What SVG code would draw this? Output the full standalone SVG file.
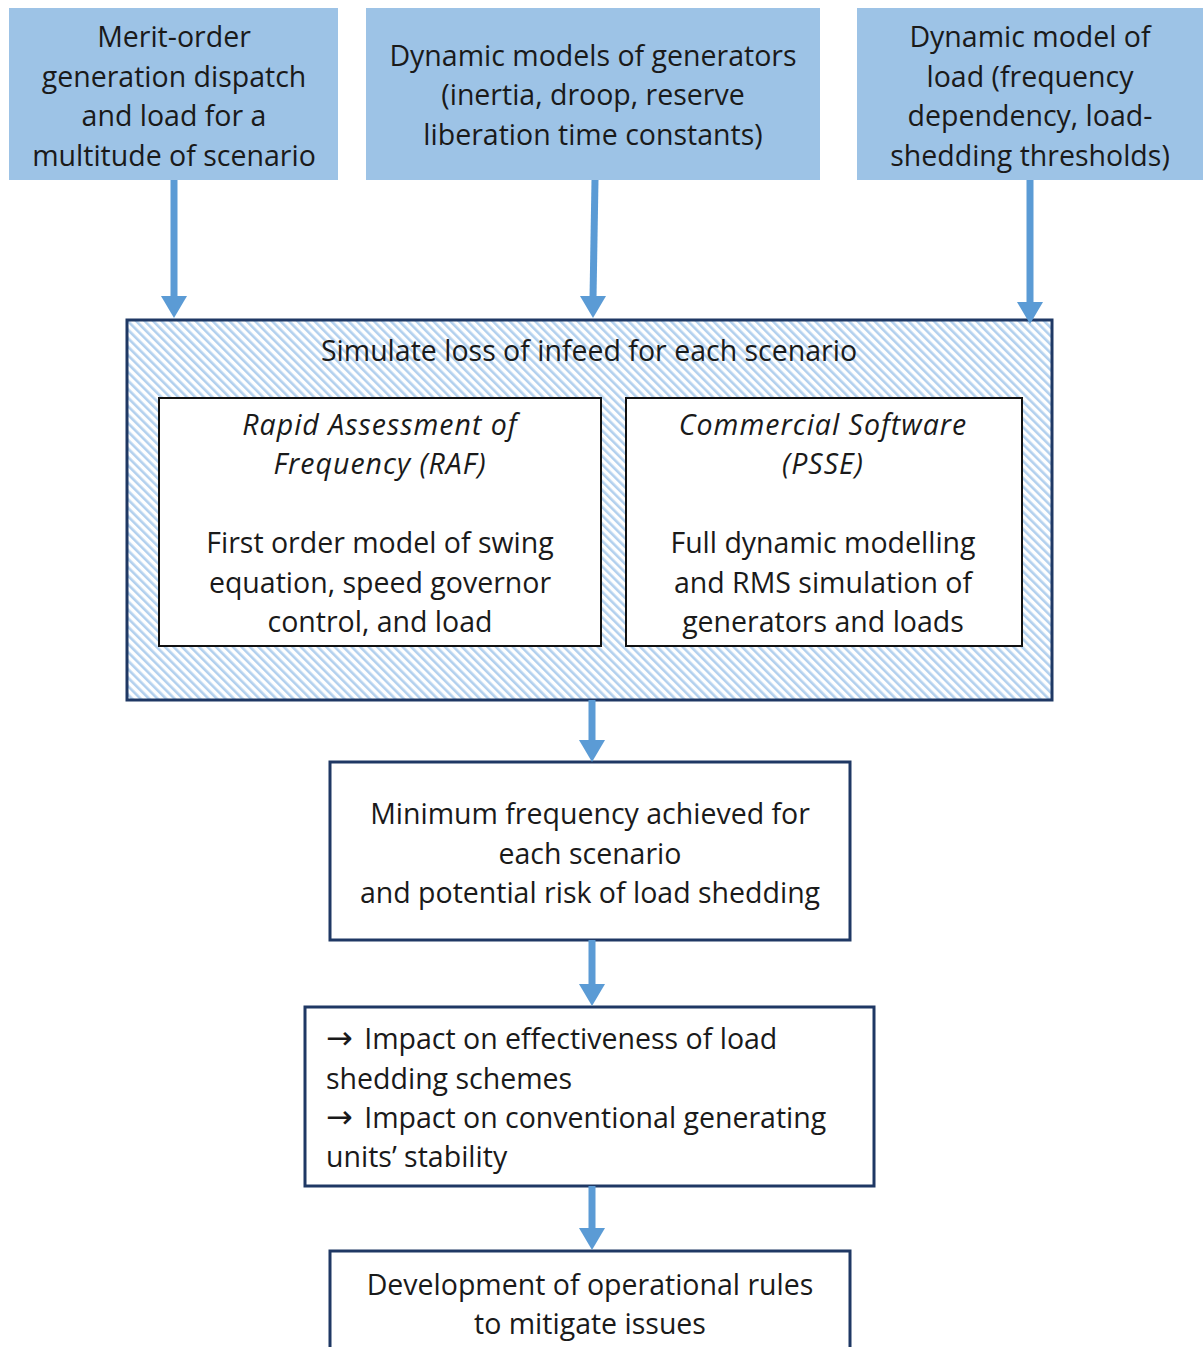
<svg xmlns="http://www.w3.org/2000/svg" width="1204" height="1347" viewBox="0 0 1204 1347">
  <style>
    text { font-family: "Open Sans", "Liberation Sans", sans-serif; font-size: 28.5px; fill: #1a1a1a; }
    .c { text-anchor: middle; }
    .i { font-style: italic; letter-spacing: 1px; }
    .arr { font-family: "DejaVu Sans", sans-serif; font-size: 32px; }
    .input { fill: #9DC3E6; stroke: none; }
    .step { fill: #ffffff; stroke: #1F3864; stroke-width: 3; }
    .method { fill: #ffffff; stroke: #111111; stroke-width: 2; }
    .flow { stroke: #5B9BD5; stroke-width: 7; fill: none; }
    .head { fill: #5B9BD5; }
  </style>
  <defs>
    <pattern id="hatch" patternUnits="userSpaceOnUse" width="6" height="6" patternTransform="rotate(-45)">
      <rect width="6" height="6" fill="#ffffff"/>
      <rect width="2.6" height="6" fill="#B2D0EE"/>
    </pattern>
  </defs>

  <!-- input boxes -->
  <g id="dispatch">
    <rect class="input" x="9" y="8" width="329" height="172"/>
    <text class="c" x="174" y="46.5">Merit-order</text>
    <text class="c" x="174" y="86.5">generation dispatch</text>
    <text class="c" x="174" y="125.5">and load for a</text>
    <text class="c" x="174" y="165.5">multitude of scenario</text>
  </g>
  <g id="gen-models">
    <rect class="input" x="366" y="8" width="454" height="172"/>
    <text class="c" x="593" y="65.5">Dynamic models of generators</text>
    <text class="c" x="593" y="104.5">(inertia, droop, reserve</text>
    <text class="c" x="593" y="144.5">liberation time constants)</text>
  </g>
  <g id="load-model">
    <rect class="input" x="857" y="8" width="346" height="172"/>
    <text class="c" x="1030" y="46.5">Dynamic model of</text>
    <text class="c" x="1030" y="86.5">load (frequency</text>
    <text class="c" x="1030" y="125.5">dependency, load-</text>
    <text class="c" x="1030" y="165.5">shedding thresholds)</text>
  </g>

  <!-- simulation stage -->
  <g id="simulate">
    <rect x="127" y="320" width="925" height="380" fill="url(#hatch)" stroke="#1F3864" stroke-width="3"/>
    <text class="c" x="589" y="360.5">Simulate loss of infeed for each scenario</text>
  </g>
  <g id="raf">
    <rect class="method" x="159" y="398" width="442" height="248"/>
    <text class="c i" x="380" y="434.5">Rapid Assessment of</text>
    <text class="c i" x="380" y="473.5">Frequency (RAF)</text>
    <text class="c" x="380" y="552.5">First order model of swing</text>
    <text class="c" x="380" y="592.5">equation, speed governor</text>
    <text class="c" x="380" y="631.5">control, and load</text>
  </g>
  <g id="psse">
    <rect class="method" x="626" y="398" width="396" height="248"/>
    <text class="c i" x="823" y="434.5">Commercial Software</text>
    <text class="c i" x="823" y="473.5">(PSSE)</text>
    <text class="c" x="823" y="552.5">Full dynamic modelling</text>
    <text class="c" x="823" y="592.5">and RMS simulation of</text>
    <text class="c" x="823" y="631.5">generators and loads</text>
  </g>

  <!-- results and outcomes -->
  <g id="min-frequency">
    <rect class="step" x="330" y="762" width="520" height="178"/>
    <text class="c" x="590" y="823.5">Minimum frequency achieved for</text>
    <text class="c" x="590" y="863.5">each scenario</text>
    <text class="c" x="590" y="902.5">and potential risk of load shedding</text>
  </g>
  <g id="impact">
    <rect class="step" x="305" y="1007" width="569" height="179"/>
    <text x="326" y="1048.5"><tspan class="arr">→</tspan><tspan dx="4"> Impact on effectiveness of load</tspan></text>
    <text x="326" y="1088.5">shedding schemes</text>
    <text x="326" y="1127.5"><tspan class="arr">→</tspan><tspan dx="4"> Impact on conventional generating</tspan></text>
    <text x="326" y="1166.5">units’ stability</text>
  </g>
  <g id="rules">
    <rect class="step" x="330" y="1251" width="520" height="110"/>
    <text class="c" x="590" y="1294.5">Development of operational rules</text>
    <text class="c" x="590" y="1333.5">to mitigate issues</text>
  </g>

  <!-- connectors -->
  <g id="connectors">
    <line class="flow" x1="174" y1="180" x2="174" y2="298"/>
    <polygon class="head" points="161,296 187,296 174,318"/>
    <line class="flow" x1="595" y1="180" x2="593" y2="298"/>
    <polygon class="head" points="580,296 606,296 593,318"/>
    <line class="flow" x1="1030" y1="180" x2="1030" y2="304"/>
    <polygon class="head" points="1017,302 1043,302 1030,324"/>
    <line class="flow" x1="592" y1="700" x2="592" y2="742"/>
    <polygon class="head" points="579,740 605,740 592,762"/>
    <line class="flow" x1="592" y1="940" x2="592" y2="986"/>
    <polygon class="head" points="579,984 605,984 592,1006"/>
    <line class="flow" x1="592" y1="1186" x2="592" y2="1230"/>
    <polygon class="head" points="579,1228 605,1228 592,1250"/>
  </g>
</svg>
